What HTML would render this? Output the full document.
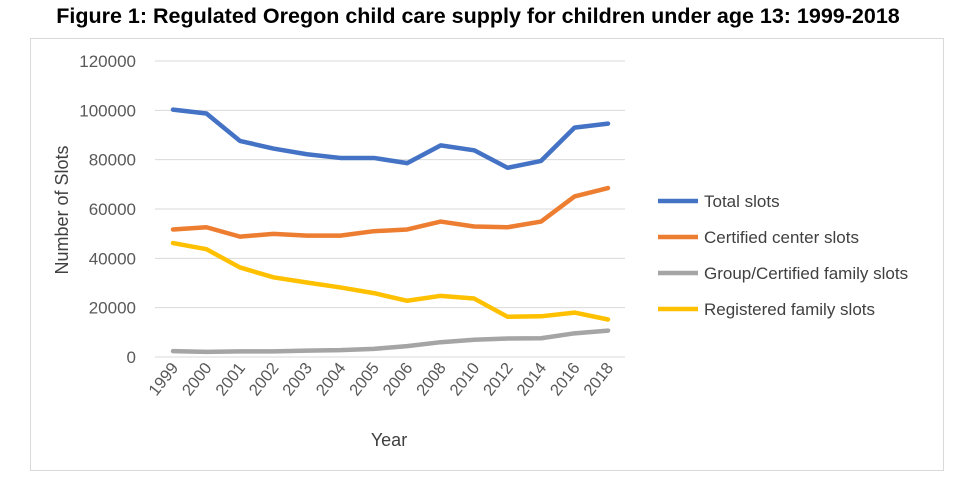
<!DOCTYPE html>
<html><head><meta charset="utf-8"><style>
body{margin:0;background:#fff;width:957px;height:478px;overflow:hidden;font-family:"Liberation Sans",sans-serif}
</style></head><body>
<svg width="957" height="478" xmlns="http://www.w3.org/2000/svg">
<text x="478" y="23" text-anchor="middle" font-size="21.5" font-weight="bold" fill="#000">Figure 1:  Regulated Oregon child care supply for children under age 13: 1999-2018</text>
<rect x="30.5" y="38.5" width="913" height="432" fill="none" stroke="#d9d9d9"/>
<g id="grid"></g><g id="series"></g><g id="xt"></g>
<text transform="translate(68,210) rotate(-90)" text-anchor="middle" font-size="18" fill="#404040">Number of Slots</text>
<text x="389" y="446" text-anchor="middle" font-size="18" fill="#404040">Year</text>
<g id="legend"></g>
</svg>
<script>
const years=["1999","2000","2001","2002","2003","2004","2005","2006","2008","2010","2012","2014","2016","2018"];
const totalSlots=[100300,98700,87600,84500,82200,80700,80700,78600,85800,83800,76700,79500,93000,94600];
const centerSlots=[51700,52600,48800,49900,49200,49200,51000,51700,54900,52900,52600,54900,65100,68500];
const groupSlots=[2400,2100,2300,2300,2600,2800,3300,4400,6000,7000,7500,7600,9600,10700];
const registeredSlots=[46200,43700,36300,32300,30200,28200,25900,22800,24800,23700,16300,16500,18000,15200];
const yTicks=[0,20000,40000,60000,80000,100000,120000];
const seriesNames=["Total slots","Certified center slots","Group/Certified family slots","Registered family slots"];
const NS="http://www.w3.org/2000/svg";
const x=i=>173+i*(608-173)/(years.length-1);
const y=v=>357-v*(357-61)/120000;
function mk(t,a,p){const e=document.createElementNS(NS,t);for(const k in a)e.setAttribute(k,a[k]);p.appendChild(e);return e;}
const grid=document.getElementById('grid');
yTicks.forEach(t=>{
 const l=mk('line',{x1:155,x2:625,y1:y(t),y2:y(t),stroke:'#d9d9d9','stroke-width':1},grid);
 
 
 const tx=mk('text',{x:136,y:y(t)+6,'text-anchor':'end','font-size':17,fill:'#595959'},grid);
 tx.textContent=t;
 
 
});
const xt=document.getElementById('xt');
years.forEach((yr,i)=>{
 const tx=mk('text',{transform:`translate(${x(i)+6},${368}) rotate(-52)`,'text-anchor':'end','font-size':16.5,fill:'#595959'},xt);
 tx.textContent=yr;
 
 
});
const data=[totalSlots,centerSlots,groupSlots,registeredSlots];
const colors=["#4472c4","#ed7d31","#a5a5a5","#ffc000"];
const sg=document.getElementById('series');
[2,3,1,0].forEach(s=>{
 const p=mk('polyline',{points:data[s].map((v,i)=>x(i)+','+y(v)).join(' '),fill:'none',stroke:colors[s],'stroke-width':4.5,'stroke-linejoin':'round','stroke-linecap':'round'},sg);
 
 
});
const lg=document.getElementById('legend');
seriesNames.forEach((n,i)=>{
 const yy=201+i*36;
 const l=mk('line',{x1:658,x2:698,y1:yy,y2:yy,stroke:colors[i],'stroke-width':4.5},lg);
 
 
 const t=mk('text',{x:704,y:yy+6,'font-size':17,fill:'#404040'},lg);
 t.textContent=n;
 
 
});
</script>
</body></html>
